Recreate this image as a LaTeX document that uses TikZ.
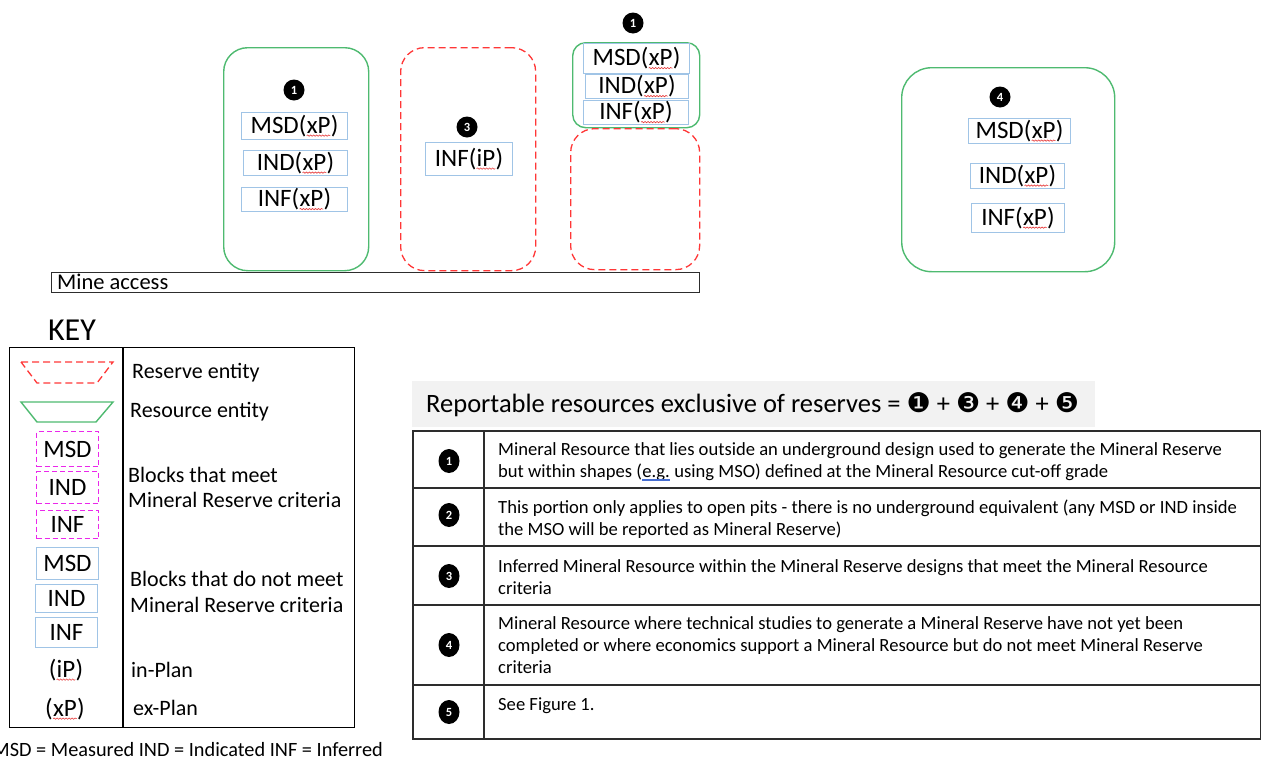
\documentclass[tikz,border=0pt]{standalone}
\usepackage{fontspec}
\setmainfont{Carlito}
\newfontfamily\dvfont{DejaVu Sans}
\usetikzlibrary{shapes.geometric,decorations.pathmorphing}

\definecolor{resgreen}{RGB}{78,186,112}
\definecolor{resred}{RGB}{255,55,55}
\definecolor{blockblue}{RGB}{160,196,230}
\definecolor{meetpink}{RGB}{235,40,235}
\definecolor{headgray}{RGB}{242,242,242}
\definecolor{gridgray}{RGB}{45,45,45}
\definecolor{squig}{RGB}{230,60,60}
\definecolor{eguline}{RGB}{70,110,210}

\newcommand{\fsz}[2]{\fontsize{#1}{#2}\selectfont}
\tikzset{plainword/.style={rectangle, draw=none, fill=none, text=black, minimum width=0pt,
  minimum height=0pt, inner sep=0pt, outer sep=0pt, anchor=base, rounded corners=0pt}}
% spell-check style wavy underline
\newcommand{\spellmark}[1]{\tikz[baseline=(sw.base)]{\node[plainword] (sw) at (0,0) {#1};
  \draw[squig, solid, line width=0.6pt, rounded corners=0pt, decorate, decoration={snake, amplitude=0.7pt, segment length=3pt}]
    ([yshift=-2.2pt]sw.base west) -- ([yshift=-2.2pt]sw.base east);}}
% grammar style double underline
\newcommand{\grammark}[1]{\tikz[baseline=(gw.base)]{\node[plainword] (gw) at (0,0) {#1};
  \draw[eguline, solid, line width=0.5pt] ([yshift=-2pt]gw.base west) -- ([yshift=-2pt]gw.base east)
    ([yshift=-3.6pt]gw.base west) -- ([yshift=-3.6pt]gw.base east);}}
% black circled digit from DejaVu Sans
\newcommand{\dn}[1]{{\dvfont\fsz{27}{27}#1}}

\begin{document}
\begin{tikzpicture}[x=1pt,y=-1pt,
  boxnode/.style={rectangle, anchor=north west, inner sep=0pt},
  resource/.style={boxnode, draw=resgreen, line width=1.4pt, rounded corners=#1},
  reserve/.style={boxnode, draw=resred, line width=1.3pt, dash pattern=on 7pt off 4pt, rounded corners=#1},
  block/.style={boxnode, draw=blockblue, line width=1pt, font=\fsz{25}{25}},
  meetblock/.style={boxnode, draw=meetpink, line width=1pt, dash pattern=on 5pt off 3pt, font=\fsz{25}{25}},
  numdot/.style={circle, fill=black, text=white, inner sep=0pt, minimum size=21pt, font=\bfseries\fsz{12.5}{12.5}},
  rownum/.style={ellipse, fill=black, text=white, inner sep=0pt, minimum width=21pt, minimum height=24pt, font=\bfseries\fsz{12.5}{12.5}},
  keylabel/.style={anchor=west, inner sep=0pt, font=\fsz{22}{22}},
  rowtext/.style={anchor=north west, inner sep=0pt, align=left, font=\fsz{18.6}{22}},
  gridline/.style={draw=gridgray, line width=1.7pt}
]
\useasboundingbox (0,0) rectangle (1261,758);

% ---------- stopes along the mine access ----------
% resource shape with ex-plan blocks
\node[resource=24, minimum width=145pt, minimum height=223pt] (resA) at (223,47) {};
\node[numdot] (dotA) at (294,90) {1};
\node[block, minimum width=106pt, minimum height=27pt] (msdA) at (241,112) {MSD(\spellmark{xP})};
\node[block, minimum width=104pt, minimum height=25pt] (indA) at (243,150) {IND(\spellmark{xP})};
\node[block, minimum width=106pt, minimum height=24pt] (infA) at (241,187) {INF(\spellmark{xP})};

% reserve shape with in-plan inferred block
\node[reserve=24, minimum width=135pt, minimum height=223pt] (resB) at (400,47) {};
\node[numdot] (dotB) at (467,127) {3};
\node[block, minimum width=87pt, minimum height=33pt] (infB) at (425,142) {INF(\spellmark{iP})};

% reserve shape capped by a resource shape
\node[resource=13, minimum width=127pt, minimum height=85pt] (resC) at (572,42) {};
\node[numdot] (dotC) at (633,23) {1};
\node[block, minimum width=106pt, minimum height=30pt] (msdC) at (583,43) {MSD(\spellmark{xP})};
\node[block, minimum width=103pt, minimum height=24pt] (indC) at (585,74) {IND(\spellmark{xP})};
\node[block, minimum width=105pt, minimum height=24pt] (infC) at (583,100) {INF(\spellmark{xP})};
\node[reserve=24, minimum width=129pt, minimum height=141pt] (resC2) at (570,128) {};

% isolated resource shape
\node[resource=30, minimum width=213pt, minimum height=204pt] (resD) at (901,67) {};
\node[numdot] (dotD) at (1000,97) {4};
\node[block, minimum width=102pt, minimum height=25pt] (msdD) at (968,118) {MSD(\spellmark{xP})};
\node[block, minimum width=94pt, minimum height=25pt] (indD) at (970,163) {IND(\spellmark{xP})};
\node[block, minimum width=93pt, minimum height=29pt] (infD) at (971,203) {INF(\spellmark{xP})};

% mine access
\node[boxnode, draw=gridgray, line width=1.3pt, minimum width=648pt, minimum height=20pt] (access) at (51,272) {};
\node[anchor=west, inner sep=0pt, font=\fsz{22.5}{22.5}] (accesslabel) at (57,282) {Mine access};

% ---------- key ----------
\node[font=\fsz{32}{32}, inner sep=0pt] (keytitle) at (72,330) {KEY};
\node[boxnode, draw=black, line width=1.1pt, minimum width=345pt, minimum height=380pt] (keybox) at (9,347) {};
\draw[black, line width=1.1pt] (123,347) -- (123,727);

\draw[resred, line width=1.3pt, dash pattern=on 7pt off 4pt] (21,362) -- (113,362) -- (97,383) -- (37,383) -- cycle;
\draw[resgreen, line width=1.4pt] (21,402) -- (113,402) -- (96,422) -- (37,422) -- cycle;

\node[meetblock, minimum width=62pt, minimum height=35pt] (kmsd1) at (36,431) {MSD};
\node[meetblock, minimum width=62pt, minimum height=32pt] (kind1) at (36,471) {IND};
\node[meetblock, minimum width=62pt, minimum height=28pt] (kinf1) at (36,510) {INF};
\node[block, minimum width=62pt, minimum height=32pt] (kmsd2) at (36,547) {MSD};
\node[block, minimum width=62pt, minimum height=28pt] (kind2) at (35,584) {IND};
\node[block, minimum width=62pt, minimum height=30pt] (kinf2) at (35,617) {INF};
\node[font=\fsz{25}{25}, inner sep=0pt] (kip) at (66,670) {(\spellmark{iP})};
\node[font=\fsz{25}{25}, inner sep=0pt] (kxp) at (65,709) {(\spellmark{xP})};

\node[keylabel] (lreserve) at (132,373) {Reserve entity};
\node[keylabel] (lresource) at (130,412) {Resource entity};
\node[keylabel] (lmeet1) at (128,475) {Blocks that meet};
\node[keylabel] (lmeet2) at (128,500) {Mineral Reserve criteria};
\node[keylabel] (lnot1) at (130,579) {Blocks that do not meet};
\node[keylabel] (lnot2) at (130,605) {Mineral Reserve criteria};
\node[keylabel] (lin) at (131,670) {in-Plan};
\node[keylabel] (lex) at (133,708) {ex-Plan};

\node[anchor=east, inner sep=0pt, font=\fsz{20.3}{20.3}] (abbrev) at (383,750) {MSD = Measured IND = Indicated INF = Inferred};

% ---------- summary table ----------
\node[boxnode, fill=headgray, minimum width=683pt, minimum height=46pt] (head) at (412,381) {};
\node[anchor=west, inner sep=0pt, font=\fsz{26.5}{26.5}] (headtext) at (426,405)
  {Reportable resources exclusive of reserves = \dn{❶} + \dn{❸} + \dn{❹} + \dn{❺}};

\node[boxnode, gridline, minimum width=848pt, minimum height=308pt] (tbl) at (412,430) {};
\draw[gridline] (484,430) -- (484,738);
\foreach \ry in {488,546,605,685}
  \draw[gridline] (412,\ry) -- (1260,\ry);

\node[rownum] (r1) at (449,461) {1};
\node[rownum] (r2) at (449,515) {2};
\node[rownum] (r3) at (449,576) {3};
\node[rownum] (r4) at (449,645) {4};
\node[rownum] (r5) at (449,712) {5};

\node[rowtext] (t1) at (498,442) {Mineral Resource that lies outside an underground design used to generate the Mineral Reserve\\but within shapes (\grammark{e.g.} using MSO) defined at the Mineral Resource cut-off grade};
\node[rowtext] (t2) at (498,500) {This portion only applies to open pits - there is no underground equivalent (any MSD or IND inside\\the MSO will be reported as Mineral Reserve)};
\node[rowtext] (t3) at (498,559) {Inferred Mineral Resource within the Mineral Reserve designs that meet the Mineral Resource\\criteria};
\node[rowtext] (t4) at (498,616) {Mineral Resource where technical studies to generate a Mineral Reserve have not yet been\\completed or where economics support a Mineral Resource but do not meet Mineral Reserve\\criteria};
\node[rowtext] (t5) at (498,697) {See Figure 1.};
\end{tikzpicture}
\end{document}
